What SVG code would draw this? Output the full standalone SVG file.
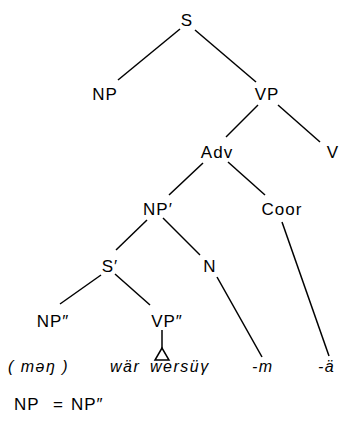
<svg xmlns="http://www.w3.org/2000/svg" width="340" height="423" viewBox="0 0 340 423">
<style>
.n{font-family:"Liberation Sans",Arial,sans-serif;font-size:17px;fill:#000;text-anchor:middle;letter-spacing:1px}
.w{font-family:"Liberation Sans",Arial,sans-serif;font-size:16px;font-style:italic;fill:#000;letter-spacing:1.5px}
.e line,.e path{stroke:#000;stroke-width:1.5;fill:none}
</style>
<rect width="340" height="423" fill="#fff"/>
<g class="e" id="connectors">
<line x1="180" y1="29" x2="118" y2="80"/>
<line x1="195" y1="30" x2="256" y2="82"/>
<line x1="258" y1="105" x2="226" y2="137"/>
<line x1="278" y1="105" x2="320" y2="142"/>
<line x1="203" y1="163" x2="169" y2="195"/>
<line x1="228" y1="162" x2="265" y2="195"/>
<line x1="147" y1="220" x2="116" y2="250"/>
<line x1="163" y1="218" x2="200" y2="255"/>
<line x1="282" y1="222" x2="329" y2="356"/>
<line x1="217" y1="277" x2="262" y2="357"/>
<line x1="101" y1="275" x2="60" y2="304"/>
<line x1="115" y1="274" x2="150" y2="305"/>
<line x1="162" y1="330" x2="162" y2="348"/>
<path d="M162 348 L155 360 L169 360 Z"/>
</g>
<g id="S"><text class="n" x="187" y="26">S</text></g>
<g id="NP"><text class="n" x="105" y="100">NP</text></g>
<g id="VP"><text class="n" x="267" y="100">VP</text></g>
<g id="Adv"><text class="n" x="217" y="158">Adv</text></g>
<g id="V"><text class="n" x="333" y="158">V</text></g>
<g id="NP1"><text class="n" x="158" y="215">NP′</text></g>
<g id="Coor"><text class="n" x="282" y="215">Coor</text></g>
<g id="S1"><text class="n" x="110" y="272">S′</text></g>
<g id="N"><text class="n" x="210" y="272">N</text></g>
<g id="NP2"><text class="n" x="53" y="327">NP″</text></g>
<g id="VP2"><text class="n" x="167" y="327">VP″</text></g>
<g id="man"><text class="w" x="8" y="372">( məŋ )</text></g>
<g id="war"><text class="w" x="110" y="372">wär</text></g>
<g id="wersuy"><text class="w" x="150" y="372">wersüγ</text></g>
<g id="m"><text class="w" x="252" y="372">-m</text></g>
<g id="a"><text class="w" x="318" y="372">-ä</text></g>
<g id="eq"><text class="n" y="410" style="text-anchor:start"><tspan x="14">NP</tspan><tspan x="53">=</tspan><tspan x="71">NP″</tspan></text></g>
</svg>
